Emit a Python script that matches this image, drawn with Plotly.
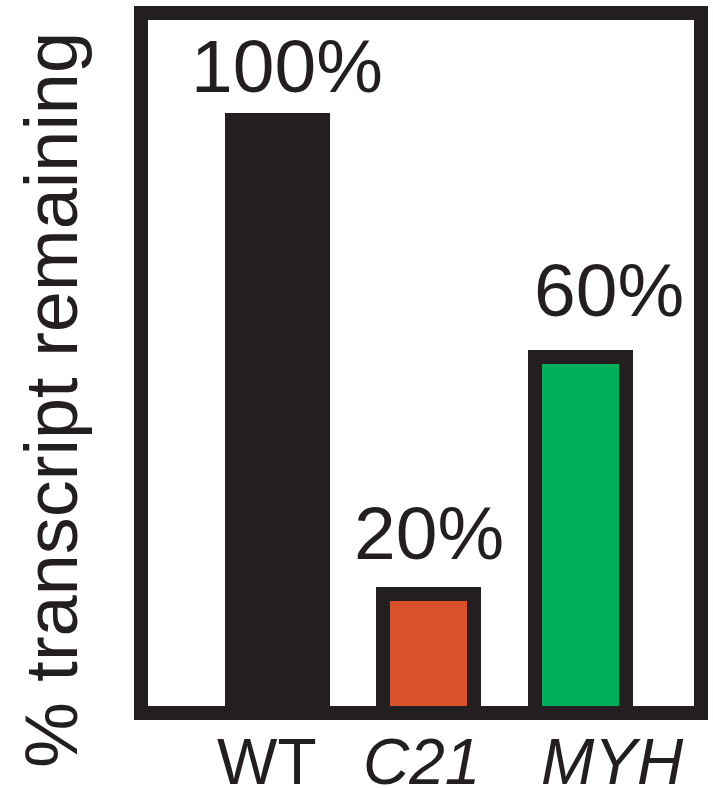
import plotly.graph_objects as go

# Data
categories = ["WT", "C21", "MYH"]
tick_labels = ["WT", "<i>C21</i>", "<i>MYH</i>"]
values = [100, 20, 60]
value_labels = ["100%", "20%", "60%"]
bar_colors = ["#231f20", "#d9502a", "#00af5a"]

INK = "#231f20"
FONT = "Liberation Sans, Arial, Helvetica, sans-serif"

fig = go.Figure(
    go.Bar(
        x=categories,
        y=values,
        width=0.6,
        marker=dict(color=bar_colors, line=dict(color=INK, width=14)),
        hoverinfo="skip",
    )
)

# value labels above each bar (offsets in px)
label_dx = [10, 0, 28]
label_dy = [10, 17, 23]
for cat, val, txt, dx, dy in zip(categories, values, value_labels, label_dx, label_dy):
    fig.add_annotation(
        x=cat, y=val, text=txt, showarrow=False,
        xanchor="center", yanchor="bottom", xshift=dx, yshift=dy,
        font=dict(family=FONT, size=75, color=INK),
    )

# category names under the axis
tick_dx = [-10, -7, 32]
for cat, txt, dx in zip(categories, tick_labels, tick_dx):
    fig.add_annotation(
        x=cat, y=0, text=txt, showarrow=False,
        xanchor="center", yanchor="top", xshift=dx, yshift=-11,
        font=dict(family=FONT, size=64, color=INK),
    )

# vertical axis title
fig.add_annotation(
    xref="paper", yref="paper", x=0, y=0.5, text="% transcript remaining",
    showarrow=False, textangle=-90, xanchor="center", yanchor="middle",
    xshift=-90, yshift=-37,
    font=dict(family=FONT, size=74, color=INK),
)

# heavy frame round the plotting area
fig.add_shape(
    type="rect", xref="paper", yref="paper", x0=0, y0=0, x1=1, y1=1,
    line=dict(color=INK, width=14), layer="above",
)

fig.update_layout(
    width=713, height=788,
    margin=dict(l=141, r=12, t=13, b=75),
    paper_bgcolor="white", plot_bgcolor="white",
    showlegend=False,
    bargap=0,
)
fig.update_xaxes(range=[-0.9, 2.795], showticklabels=False, showgrid=False,
                 zeroline=False, showline=False, ticks="")
fig.update_yaxes(range=[0, 118], showticklabels=False, showgrid=False,
                 zeroline=False, showline=False, ticks="")

fig.write_html("out.html")
